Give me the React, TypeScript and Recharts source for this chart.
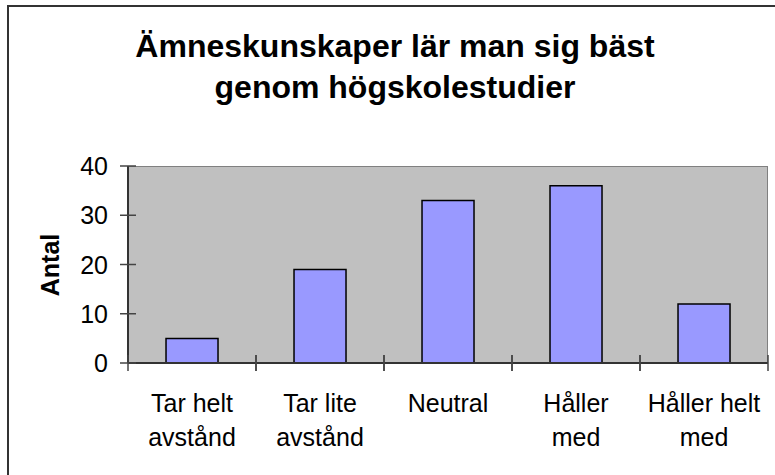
import { BarChart, Bar, XAxis, YAxis } from 'recharts'

const CATEGORIES = [
  'Tar helt\navstånd',
  'Tar lite\navstånd',
  'Neutral',
  'Håller\nmed',
  'Håller helt\nmed',
]
const COUNTS = [5, 19, 33, 36, 12]
const Y_TICKS = [0, 10, 20, 30, 40]
const TITLE = ['Ämneskunskaper lär man sig bäst', 'genom högskolestudier']

const data = CATEGORIES.map((label, i) => ({ label, antal: COUNTS[i] }))

const FONT = '"Liberation Sans", Arial, sans-serif'

// plot box, set by the chart margins below
const PLOT = { left: 128, top: 166, right: 7, bottom: 112 }

// category label + tick marks on the band edges (crossing the axis, Excel style)
function CategoryTick(props: any) {
  const { x, y, payload, width, visibleTicksCount } = props
  const band = width && visibleTicksCount ? Number(width) / visibleTicksCount : 128
  const half = band / 2
  const lines = String(payload.value).split('\n')
  return (
    <g>
      <line x1={x - half} x2={x - half} y1={y - 8} y2={y + 8} stroke="#444" strokeWidth={1.5} />
      <line x1={x + half} x2={x + half} y1={y - 8} y2={y + 8} stroke="#444" strokeWidth={1.5} />
      <text x={x} y={y} textAnchor="middle" fill="#000" fontSize={25} fontFamily={FONT}>
        {lines.map((line, i) => (
          <tspan key={i} x={x} dy={i === 0 ? 49 : 34}>
            {line}
          </tspan>
        ))}
      </text>
    </g>
  )
}

function ValueTick(props: any) {
  const { x, y, payload } = props
  return (
    <g>
      <line x1={x - 8} x2={x + 8} y1={y} y2={y} stroke="#444" strokeWidth={1.5} />
      <text
        x={x - 20}
        y={y}
        textAnchor="end"
        dominantBaseline="central"
        fill="#000"
        fontSize={25}
        fontFamily={FONT}
      >
        {payload.value}
      </text>
    </g>
  )
}

export default function App() {
  return (
    <div
      style={{
        position: 'absolute',
        left: 0,
        top: 0,
        width: 775,
        height: 475,
        overflow: 'hidden',
        background: '#fff',
        fontFamily: FONT,
      }}
    >
      {/* outer chart frame, cut off at right and bottom */}
      <div
        style={{
          position: 'absolute',
          left: 7,
          top: 5,
          width: 800,
          height: 500,
          borderLeft: '2px solid #333',
          borderTop: '2px solid #333',
        }}
      />
      {/* grey plot background with its thin top/right border */}
      <div
        style={{
          position: 'absolute',
          left: PLOT.left,
          top: PLOT.top,
          right: PLOT.right,
          bottom: PLOT.bottom,
          background: '#C0C0C0',
          borderTop: '1.5px solid #808080',
          borderRight: '1.5px solid #808080',
          boxSizing: 'border-box',
        }}
      />
      {TITLE.map((line, i) => (
        <div
          key={i}
          style={{
            position: 'absolute',
            left: 95,
            width: 600,
            top: 28 + i * 41,
            textAlign: 'center',
            fontWeight: 'bold',
            fontSize: 32,
            lineHeight: '36px',
            color: '#000',
            whiteSpace: 'nowrap',
          }}
        >
          {line}
        </div>
      ))}
      <div style={{ position: 'absolute', left: 0, top: 0 }}>
        <BarChart
          width={775}
          height={475}
          data={data}
          margin={{ top: PLOT.top, right: PLOT.right, left: PLOT.left - 60, bottom: PLOT.bottom - 90 }}
          barCategoryGap="29.7%"
        >
          <XAxis
            dataKey="label"
            height={90}
            interval={0}
            tickSize={0}
            tickMargin={0}
            tickLine={false}
            axisLine={{ stroke: '#333', strokeWidth: 2 }}
            tick={<CategoryTick />}
          />
          <YAxis
            domain={[0, 40]}
            ticks={Y_TICKS}
            width={60}
            tickSize={0}
            tickMargin={0}
            tickLine={false}
            axisLine={{ stroke: '#333', strokeWidth: 2 }}
            tick={<ValueTick />}
            label={{
              content: () => (
                <text
                  x={50}
                  y={265}
                  transform="rotate(-90 50 265)"
                  textAnchor="middle"
                  dominantBaseline="central"
                  fontSize={25}
                  fontWeight="bold"
                  fontFamily={FONT}
                  fill="#000"
                >
                  Antal
                </text>
              ),
            }}
          />
          <Bar
            dataKey="antal"
            fill="#9999FF"
            stroke="#000"
            strokeWidth={1.5}
            isAnimationActive={false}
          />
        </BarChart>
      </div>
    </div>
  )
}
